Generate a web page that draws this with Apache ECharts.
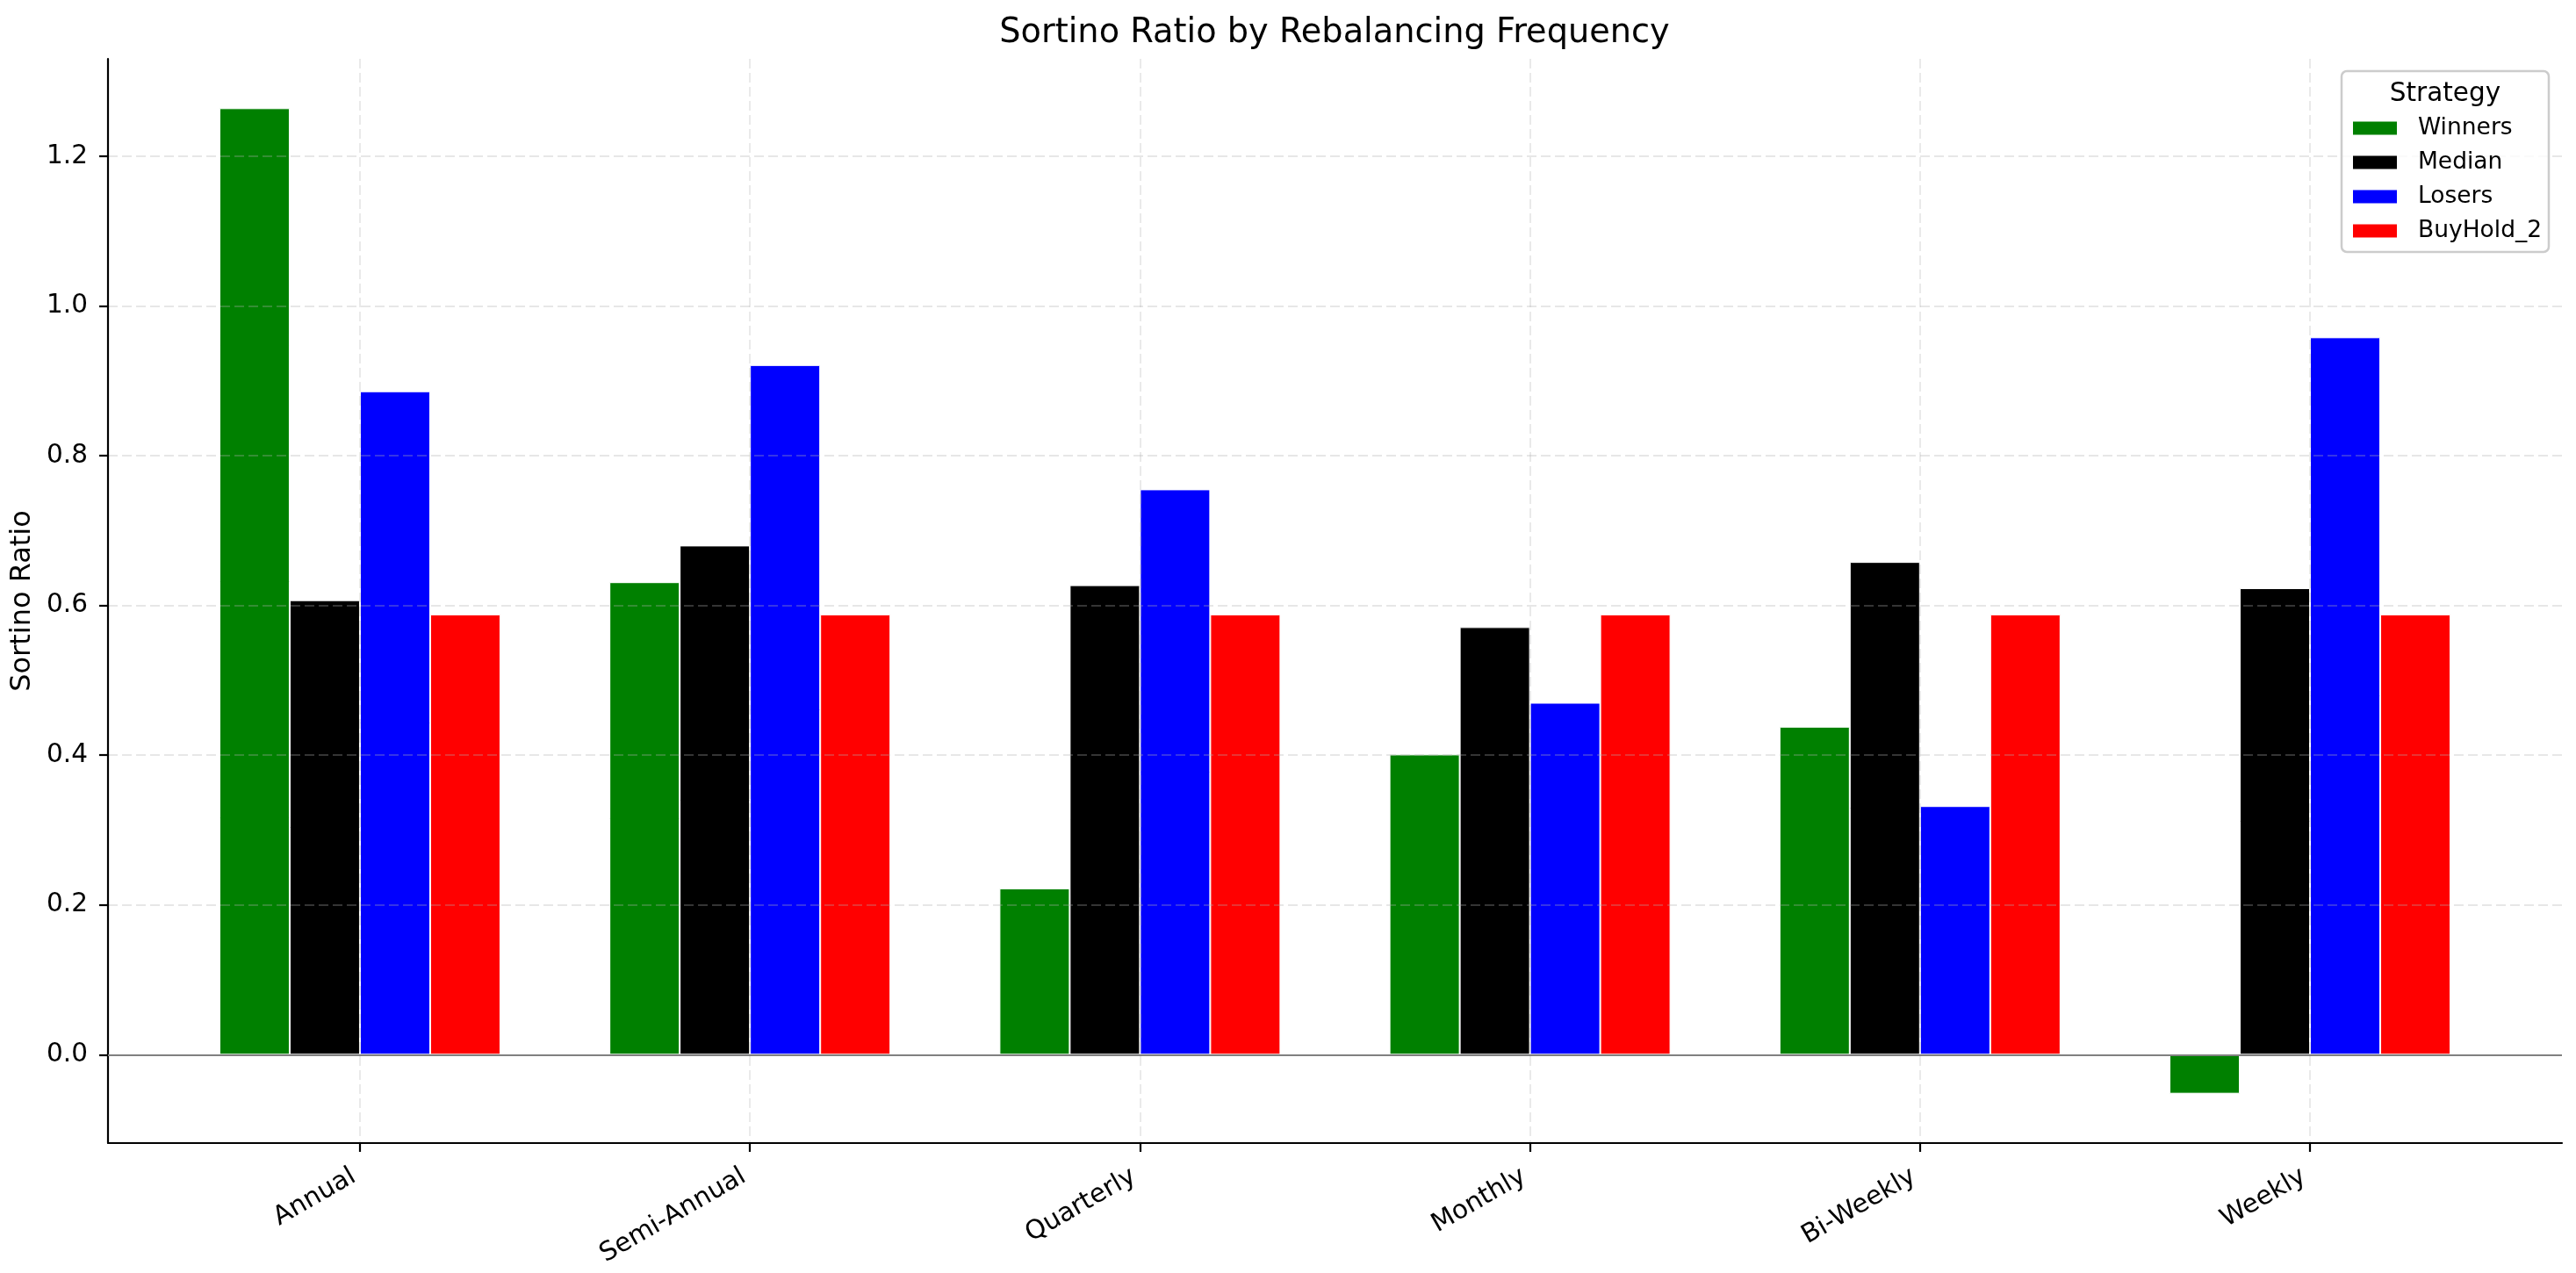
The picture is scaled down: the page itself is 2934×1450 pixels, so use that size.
<!DOCTYPE html>
<html>
<head>
<meta charset="utf-8">
<script src="https://cdn.jsdelivr.net/npm/echarts@6/dist/echarts.min.js"></script>
<style>
  html, body { margin: 0; padding: 0; background: #fff; }
  #chart { width: 2934px; height: 1450px; }
</style>
</head>
<body>
<div id="chart"></div>
<script>
// rebalancing frequencies (x categories)
const categories = ['Annual', 'Semi-Annual', 'Quarterly', 'Monthly', 'Bi-Weekly', 'Weekly'];
// sortino ratio per strategy
const winners = [1.264, 0.631, 0.222, 0.401, 0.438, -0.052];
const median = [0.607, 0.680, 0.627, 0.571, 0.658, 0.623];
const losers = [0.886, 0.921, 0.755, 0.470, 0.332, 0.958];
const buyHold2 = [0.588, 0.588, 0.588, 0.588, 0.588, 0.588];
const strategies = ['Winners', 'Median', 'Losers', 'BuyHold_2'];
const yTicks = [0, 0.2, 0.4, 0.6, 0.8, 1.0, 1.2];
const xTicks = categories.map((c, i) => i);

const font = 'DejaVu Sans';
const gridColor = 'rgba(176,176,176,0.3)';

let myChart = echarts.init(document.getElementById('chart'), null, { renderer: 'canvas' });

// 每个策略一组柱子
function barSeries(name, values, color, withZeroLine) {
  let s = {
    name: name,
    type: 'bar',
    data: values.map((v, i) => [i, v]),
    barWidth: 80,
    barGap: '0%',
    itemStyle: { color: color, borderColor: '#fff', borderWidth: 1 },
    emphasis: { disabled: true },
    animation: false
  };
  if (withZeroLine) {
    s.markLine = {
      silent: true,
      symbol: ['none', 'none'],
      label: { show: false },
      lineStyle: { color: '#808080', width: 2.2, type: 'solid' },
      data: [{ yAxis: 0 }],
      animation: false
    };
  }
  return s;
}

let option = {
  backgroundColor: '#fff',
  animation: false,
  title: {
    text: 'Sortino Ratio by Rebalancing Frequency',
    left: 1520,
    textAlign: 'center',
    top: 19,
    padding: 0,
    textStyle: { fontFamily: font, fontSize: 38.3, fontWeight: 'normal', color: '#000' }
  },
  grid: { left: 123, right: 16, top: 67, bottom: 148 },
  legend: {
    data: strategies,
    orient: 'vertical',
    left: 2678,
    top: 131,
    padding: 0,
    itemWidth: 52,
    itemHeight: 17,
    itemGap: 9,
    icon: 'rect',
    z: 20,
    textStyle: { fontFamily: font, fontSize: 26.5, color: '#000', lineHeight: 30, padding: [0, 0, 0, 18] }
  },
  xAxis: {
    type: 'value',
    min: -0.646,
    max: 5.646,
    z: 3,
    axisLine: { onZero: false, lineStyle: { color: '#000', width: 2.2 } },
    axisTick: { customValues: xTicks, length: 10, lineStyle: { color: '#000', width: 2.2 } },
    axisLabel: {
      customValues: xTicks,
      formatter: v => categories[Math.round(v)],
      rotate: 30,
      margin: 32,
      padding: [0, 8, 0, 0],
      fontFamily: font,
      fontSize: 29.5,
      color: '#000'
    },
    splitLine: { show: true, lineStyle: { color: gridColor, width: 1.8, type: [11, 5] } }
  },
  yAxis: {
    type: 'value',
    min: -0.118,
    max: 1.330,
    z: 3,
    name: 'Sortino Ratio',
    nameLocation: 'middle',
    nameGap: 75,
    nameTextStyle: { fontFamily: font, fontSize: 32, color: '#000' },
    axisLine: { show: true, onZero: false, lineStyle: { color: '#000', width: 2.2 } },
    axisTick: { show: true, customValues: yTicks, length: 10, lineStyle: { color: '#000', width: 2.2 } },
    axisLabel: {
      customValues: yTicks,
      formatter: v => v.toFixed(1),
      margin: 23,
      fontFamily: font,
      fontSize: 29.5,
      color: '#000'
    },
    splitLine: { show: true, lineStyle: { color: gridColor, width: 1.8, type: [11, 5] } }
  },
  graphic: [
    {
      type: 'rect',
      z: 10,
      shape: { x: 2667, y: 81, width: 236, height: 206, r: 6 },
      style: { fill: 'rgba(255,255,255,0.8)', stroke: '#cccccc', lineWidth: 2.5 }
    },
    {
      type: 'text',
      z: 11,
      x: 2785,
      y: 107,
      style: {
        text: 'Strategy',
        fill: '#000',
        font: '29.5px "DejaVu Sans"',
        textAlign: 'center',
        textVerticalAlign: 'middle'
      }
    }
  ],
  series: [
    barSeries('Winners', winners, '#008000', true),
    barSeries('Median', median, '#000000', false),
    barSeries('Losers', losers, '#0000ff', false),
    barSeries('BuyHold_2', buyHold2, '#ff0000', false)
  ]
};

myChart.setOption(option);
</script>
</body>
</html>
